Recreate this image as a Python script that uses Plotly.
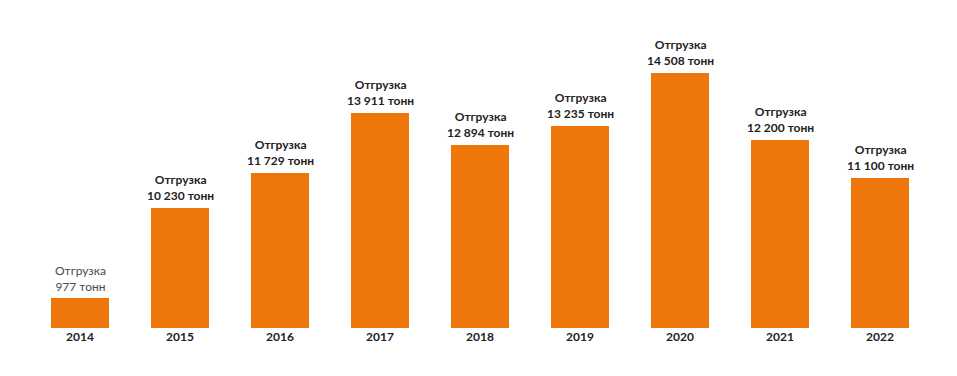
import plotly.graph_objects as go

years = ["2014", "2015", "2016", "2017", "2018", "2019", "2020", "2021", "2022"]
shipments = ["977", "10 230", "11 729", "13 911", "12 894", "13 235", "14 508", "12 200", "11 100"]
# bar heights as drawn in the picture (chart is not drawn to scale)
bar_heights = [30, 120, 155, 215, 183, 202, 255, 188, 150]

fig = go.Figure(
    go.Bar(
        x=years,
        y=bar_heights,
        marker=dict(color="#EF760A", line=dict(width=0)),
        width=0.58,
        cliponaxis=False,
        hoverinfo="skip",
    )
)

for i, (s, h) in enumerate(zip(shipments, bar_heights)):
    if i == 0:
        txt = f"Отгрузка<br>{s} тонн"
        font = dict(family="Lato", size=12, color="#4a4a4a")
        ys = 2
    else:
        txt = f"<b>Отгрузка<br>{s} тонн</b>"
        font = dict(family="Lato", size=12, color="#222222")
        ys = 3
    fig.add_annotation(
        x=i, y=h, text=txt, showarrow=False,
        xanchor="center", yanchor="bottom", yshift=ys,
        font=font, align="center",
    )

fig.update_layout(
    width=949,
    height=368,
    margin=dict(l=22, r=27, t=0, b=48),
    paper_bgcolor="white",
    plot_bgcolor="white",
    showlegend=False,
    font=dict(family="Lato", color="#222222"),
)
fig.update_xaxes(
    type="category",
    range=[-0.5, len(years) - 0.5],
    showgrid=False,
    showline=False,
    zeroline=False,
    ticks="",
    tickfont=dict(family="Lato", size=12, color="#222222", weight="bold"),
)
fig.update_yaxes(visible=False, range=[0, 320], showgrid=False, zeroline=False)

fig.write_html("out.html")
